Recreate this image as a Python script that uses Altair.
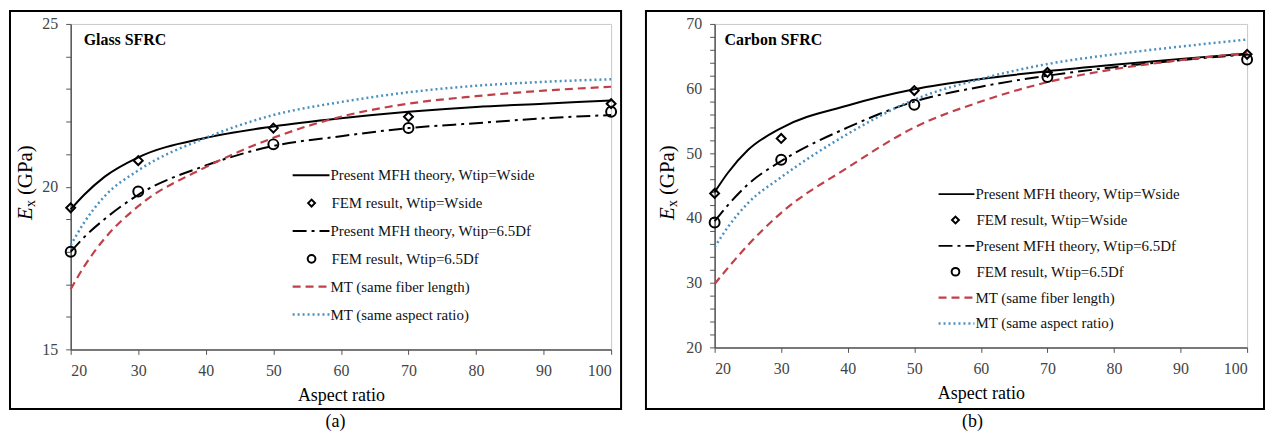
import altair as alt
import pandas as pd

# ---------------- data ----------------
aspect_curve = [20, 22, 25, 30, 40, 50, 60, 70, 80, 90, 100]
aspect_fem = [20, 30, 50, 70, 100]
x_ticks = [20, 30, 40, 50, 60, 70, 80, 90, 100]

glass_mfh_wside = [19.3, 19.75, 20.3, 20.9, 21.5, 21.85, 22.1, 22.3, 22.45, 22.55, 22.65]
glass_mfh_65df = [18.0, 18.45, 19.0, 19.75, 20.65, 21.25, 21.55, 21.8, 21.95, 22.1, 22.2]
glass_mt_length = [16.85, 17.55, 18.4, 19.4, 20.6, 21.5, 22.15, 22.55, 22.78, 22.95, 23.07]
glass_mt_aspect = [18.2, 18.9, 19.7, 20.5, 21.5, 22.2, 22.6, 22.9, 23.1, 23.22, 23.3]
glass_fem_wside = [19.35, 20.8, 21.8, 22.15, 22.55]
glass_fem_65df = [18.0, 19.85, 21.3, 21.8, 22.3]

carbon_mfh_wside = [44.0, 47.0, 50.5, 53.9, 57.4, 59.9, 61.5, 62.7, 63.7, 64.6, 65.4]
carbon_mfh_65df = [39.5, 42.0, 45.2, 48.8, 54.0, 58.0, 60.3, 62.0, 63.3, 64.4, 65.3]
carbon_mt_length = [29.8, 32.3, 35.8, 40.8, 47.8, 54.0, 58.0, 61.0, 63.0, 64.4, 65.5]
carbon_mt_aspect = [35.5, 38.6, 42.3, 46.3, 53.0, 58.3, 61.5, 63.8, 65.3, 66.5, 67.6]
carbon_fem_wside = [43.8, 52.3, 59.7, 62.5, 65.3]
carbon_fem_65df = [39.3, 49.0, 57.5, 61.8, 64.5]

legend_labels = [
    "Present MFH theory, Wtip=Wside",
    "FEM result, Wtip=Wside",
    "Present MFH theory, Wtip=6.5Df",
    "FEM result, Wtip=6.5Df",
    "MT (same fiber length)",
    "MT (same aspect ratio)",
]
panel_titles = ["Glass SFRC", "Carbon SFRC"]
panel_tags = ["(a)", "(b)"]
x_title = "Aspect ratio"

# ---------------- styles ----------------
SERIF = "Liberation Serif"
RED = "#c0404a"
BLUE = "#4a90c0"
line_styles = {
    "solid": dict(color="black", strokeWidth=2),
    "dashdot": dict(color="black", strokeWidth=2, strokeDash=[14, 5, 3, 5]),
    "dash": dict(color=RED, strokeWidth=2.2, strokeDash=[8, 5]),
    "dot": dict(color=BLUE, strokeWidth=2.5, strokeDash=[2, 3]),
}
legend_kinds = [("line", "solid"), ("point", "diamond"), ("line", "dashdot"),
                ("point", "circle"), ("line", "dash"), ("line", "dot")]
point_sizes = {"diamond": 80, "circle": 100}

one = pd.DataFrame({"k": [0]})


def panel(ydomain, yvals, ystep, curves, fems, title, tag, w, h,
          frame_x1, frame_x2, ytitle_x, title_x, tag_x,
          leg_top, leg_gap, leg_line_x1, leg_line_x2, leg_mark_x, leg_text_x):
    x_enc = alt.X("a:Q", scale=alt.Scale(domain=[20, 100], nice=False, zero=False),
                  axis=alt.Axis(values=x_ticks, title=x_title, format="d"))
    y_enc = alt.Y("v:Q", scale=alt.Scale(domain=ydomain, nice=False, zero=False),
                  axis=alt.Axis(values=yvals, title=None,
                                labelExpr=f"datum.value % {ystep} == 0 ? datum.label : ''"))
    layers = []
    for vals, style in curves:
        df = pd.DataFrame({"a": aspect_curve, "v": vals})
        layers.append(alt.Chart(df).mark_line(interpolate="monotone", **line_styles[style])
                      .encode(x=x_enc, y=y_enc))
    for vals, shape in fems:
        df = pd.DataFrame({"a": aspect_fem, "v": vals})
        layers.append(alt.Chart(df).mark_point(shape=shape, filled=False, color="black",
                                               strokeWidth=2, size=point_sizes[shape], opacity=1)
                      .encode(x=x_enc, y=y_enc))
    # legend
    for i, (label, (kind, style)) in enumerate(zip(legend_labels, legend_kinds)):
        yy = leg_top + i * leg_gap
        if kind == "line":
            layers.append(alt.Chart(one).mark_rule(**line_styles[style])
                          .encode(x=alt.value(leg_line_x1), x2=alt.value(leg_line_x2), y=alt.value(yy)))
            tx = leg_line_x2 + 1
        else:
            layers.append(alt.Chart(one).mark_point(shape=style, filled=False, color="black",
                                                    strokeWidth=2, size=point_sizes[style] * 0.6, opacity=1)
                          .encode(x=alt.value(leg_mark_x), y=alt.value(yy)))
            tx = leg_text_x
        layers.append(alt.Chart(one).mark_text(text=label, font=SERIF, fontSize=15, align="left",
                                               baseline="middle", color="#111")
                      .encode(x=alt.value(tx), y=alt.value(yy)))
    # panel title
    layers.append(alt.Chart(one).mark_text(text=title, font=SERIF, fontSize=16, fontWeight="bold",
                                           align="left", baseline="middle", color="black")
                  .encode(x=alt.value(title_x), y=alt.value(16)))
    # y axis title  E_x (GPa), rotated
    layers.append(alt.Chart(one).mark_text(text="E", font=SERIF, fontSize=21, fontStyle="italic",
                                           angle=270, align="left", baseline="middle", color="black")
                  .encode(x=alt.value(ytitle_x), y=alt.value(197)))
    layers.append(alt.Chart(one).mark_text(text="x", font=SERIF, fontSize=14,
                                           angle=270, align="left", baseline="middle", color="black")
                  .encode(x=alt.value(ytitle_x + 5), y=alt.value(184)))
    layers.append(alt.Chart(one).mark_text(text="(GPa)", font=SERIF, fontSize=21,
                                           angle=270, align="left", baseline="middle", color="black")
                  .encode(x=alt.value(ytitle_x), y=alt.value(172)))
    # frame
    layers.append(alt.Chart(one).mark_rect(fillOpacity=0, stroke="black", strokeWidth=2)
                  .encode(x=alt.value(frame_x1), x2=alt.value(frame_x2),
                          y=alt.value(-13), y2=alt.value(387)))
    # panel tag
    layers.append(alt.Chart(one).mark_text(text=tag, font=SERIF, fontSize=18, align="center",
                                           baseline="middle", color="black")
                  .encode(x=alt.value(tag_x), y=alt.value(400)))
    return alt.layer(*layers).properties(width=w, height=h)


pa = panel([15, 25], list(range(15, 26)), 5,
           [(glass_mfh_wside, "solid"), (glass_mfh_65df, "dashdot"),
            (glass_mt_length, "dash"), (glass_mt_aspect, "dot")],
           [(glass_fem_wside, "diamond"), (glass_fem_65df, "circle")],
           panel_titles[0], panel_tags[0], 543, 327,
           -61, 553, -45, 13, 266,
           152, 28, 223, 260, 242, 262)

pb = panel([20, 70], list(range(20, 71, 2)), 10,
           [(carbon_mfh_wside, "solid"), (carbon_mfh_65df, "dashdot"),
            (carbon_mt_length, "dash"), (carbon_mt_aspect, "dot")],
           [(carbon_fem_wside, "diamond"), (carbon_fem_65df, "circle")],
           panel_titles[1], panel_tags[1], 535, 325,
           -69, 552, -47, 10, 259,
           171, 26, 225, 261, 242, 263)

chart = (alt.hconcat(pa, pb, spacing=104, bounds="flush")
         .properties(padding=0)
         .configure_view(stroke="#c8c8c8", strokeWidth=1)
         .configure_axis(grid=False, labelFont=SERIF, labelFontSize=16, labelColor="#444",
                         domainColor="#555", domainWidth=1.5, tickColor="#555", tickSize=5,
                         labelPadding=8, titleFont=SERIF, titleFontSize=18, titleFontWeight="normal",
                         titleColor="black", titlePadding=8)
         .configure_axisY(labelPadding=8))

chart.save("out.html", embed_options={"renderer": "svg", "actions": False})
